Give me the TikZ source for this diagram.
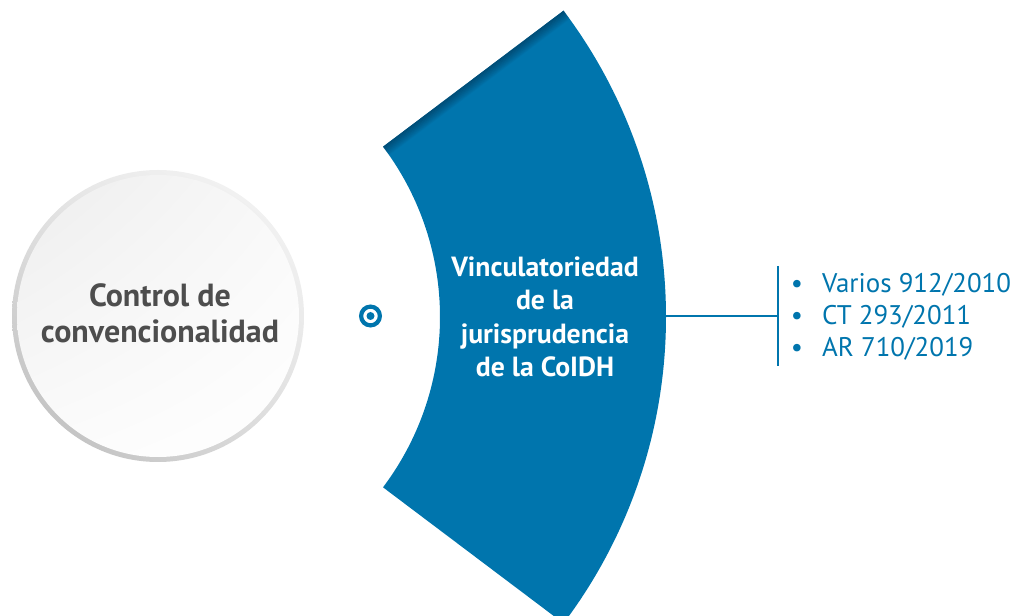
\documentclass[tikz,border=0pt]{standalone}
\usepackage{fontspec}
\setmainfont{PT Sans}
\usetikzlibrary{positioning,shadings}

\definecolor{vincblue}{RGB}{0,117,173}
\definecolor{vincdark}{RGB}{0,62,98}
\definecolor{convgray}{RGB}{77,77,77}

\tikzset{every picture/.style={line width=0.75pt}}

\begin{document}
\begin{tikzpicture}[x=0.75pt,y=0.75pt,yscale=-1,xscale=1]
	\path[use as bounding box] (0,0) rectangle (1018,616);
	
	%Circle rim and face
	\shade[upper right=gray!6, lower left=gray!55, upper left=gray!20, lower right=gray!25] (158,316) circle (146);
	\shade[upper left=gray!14, lower right=white, upper right=gray!5, lower left=gray!3] (158,316) circle (141);
	
	%Annular sector
	\begin{scope}[shift={(157,317)}]
		\fill[vincblue] (-37:283) arc[start angle=-37, end angle=37, radius=283] -- (37:509) arc[start angle=37, end angle=-37, radius=509] -- cycle;
		\begin{scope}
			\clip (-37:283) arc[start angle=-37, end angle=37, radius=283] -- (37:509) arc[start angle=37, end angle=-37, radius=509] -- cycle;
			%soft shadow along the upper edge
			\foreach \i in {0,...,10}
				\draw[rotate=-37, vincdark, line width=0.75pt, opacity={0.75*(1-\i/11)}] (275,\i) -- (515,\i);
		\end{scope}
	\end{scope}
	
	%Target icon
	\draw[vincblue, line width=3.15pt] (370.5,316) circle (9.4);
	\fill[vincblue] (370.5,316) circle (4);
	\coordinate (target) at (370.5,316);
	
	% Text Node
	\node[text=convgray, font=\bfseries\fontsize{24}{27}\selectfont, align=center] (conv) at (160,313) {Control de\\convencionalidad};
	% Text Node
	\node[text=white, font=\bfseries\fontsize{20.8}{25}\selectfont, align=center] (vinc) at (545,317) {Vinculatoriedad\\de la\\jurisprudencia\\de la CoIDH};
	
	%Connector and bar
	\coordinate (secR) at (665,316);
	\coordinate (barM) at (777.5,316);
	\coordinate (barT) at (777.5,266);
	\coordinate (barB) at (777.5,366);
	\draw[vincblue, line width=1.5pt] (secR) -- (barM);
	\draw[vincblue, line width=1.5pt] (barT) -- (barB);
	
	% Text Node
	\node[text=vincblue, font=\fontsize{20.2}{24}\selectfont, align=left, anchor=west] (list) at (786,317) {\textbullet\hspace{14.25pt}Varios 912/2010\\\textbullet\hspace{14.25pt}CT 293/2011\\\textbullet\hspace{14.25pt}AR 710/2019};
	
\end{tikzpicture}
\end{document}
